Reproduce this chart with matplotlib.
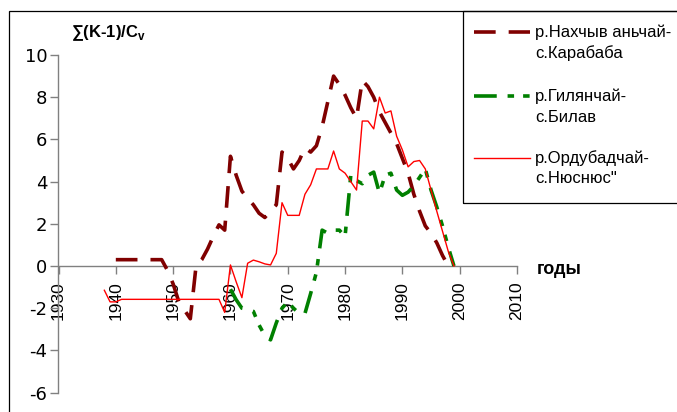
import matplotlib
matplotlib.use("Agg")
import matplotlib.pyplot as plt
from matplotlib.lines import Line2D
from matplotlib.patches import Rectangle

plt.rcParams["font.family"] = ["Liberation Sans", "DejaVu Sans"]
plt.rcParams["axes.unicode_minus"] = False
plt.rcParams["mathtext.fontset"] = "custom"
plt.rcParams["mathtext.bf"] = "Liberation Sans:bold"
plt.rcParams["mathtext.rm"] = "Liberation Sans"

# р.Нахчыванчай - с.Карабаба
years_kar = list(range(1940, 1999))
vals_kar = [0.3, 0.3, 0.3, 0.3, 0.3, 0.3, 0.3, 0.3, 0.3, -0.2,
            -0.85, -1.7, -2.1, -2.5, 0.0, 0.3, 0.8, 1.4, 1.95, 1.7,
            5.2, 4.3, 3.55, 3.2, 2.9, 2.5, 2.3, 2.6, 2.9, 5.4,
            5.1, 4.6, 5.0, 5.6, 5.4, 5.7, 6.6, 7.8, 9.0, 8.6,
            8.1, 7.5, 7.0, 8.8, 8.5, 8.0, 7.3, 6.8, 6.3, 5.8,
            5.1, 4.4, 3.4, 2.6, 1.9, 1.55, 1.1, 0.5, 0.0]

# р.Гилянчай - с.Билав
years_bil = list(range(1960, 2000))
vals_bil = [-1.1, -1.6, -2.0, -2.05, -2.15, -2.8, -3.3, -3.5, -2.7, -2.0,
            -1.7, -2.0, -2.25, -2.25, -1.3, -0.3, 1.7, 1.55, 1.7, 1.7,
            1.4, 4.3, 4.05, 3.9, 4.3, 4.45, 3.45, 4.3, 4.4, 3.6,
            3.35, 3.5, 3.8, 4.2, 4.6, 3.6, 2.8, 1.9, 0.9, 0.0]

# р.Ордубадчай - с.Нюснюс
years_nus = list(range(1938, 2000))
vals_nus = [-1.15, -1.7, -1.7, -1.58, -1.58, -1.58, -1.58, -1.58, -1.58, -1.58,
            -1.58, -1.58, -1.58, -1.58, -1.58, -1.58, -1.58, -1.58, -1.58, -1.58,
            -1.58, -2.2, 0.05, -0.75, -1.5, 0.13, 0.28, 0.2, 0.1, 0.05,
            0.6, 3.0, 2.4, 2.4, 2.4, 3.4, 3.85, 4.6, 4.6, 4.6,
            5.45, 4.6, 4.4, 4.0, 3.6, 6.87, 6.87, 6.5, 8.0, 7.25,
            7.35, 6.15, 5.5, 4.7, 4.95, 5.0, 4.6, 3.6, 2.6, 1.65,
            0.7, 0.0]

labels = ["р.Нахчыв аньчай-\nс.Карабаба", "р.Гилянчай-\nс.Билав", "р.Ордубадчай-\nс.Нюснюс\""]
colors = ["#800000", "#008000", "#ff0000"]

W, H = 677, 412
fig = plt.figure(figsize=(W / 100, H / 100), dpi=100)
ax = fig.add_axes([58.5 / W, 1 - 392.6 / H, (517 - 58.5) / W, (392.6 - 55) / H])

lw_thick = 2.6
dash_kar = (6.0, 3.6)
dash_bil = (6.3, 3.0, 1.8, 2.5, 1.8, 3.0)
l1, = ax.plot(years_kar, vals_kar, color=colors[0], lw=lw_thick, zorder=3,
              dashes=dash_kar, dash_capstyle="butt")
l2, = ax.plot(years_bil, vals_bil, color=colors[1], lw=lw_thick, zorder=4,
              dashes=dash_bil, dash_capstyle="butt")
l3, = ax.plot(years_nus, vals_nus, color=colors[2], lw=1.0, zorder=5)

ax.set_xlim(1930, 2010)
ax.set_ylim(-6, 10)
ax.set_xticks(range(1930, 2011, 10))
ax.set_yticks(range(-6, 11, 2))

for s in ["top", "right"]:
    ax.spines[s].set_visible(False)
ax.spines["bottom"].set_position(("data", 0))
for s in ["left", "bottom"]:
    ax.spines[s].set_color("#808080")
    ax.spines[s].set_linewidth(1.0)

ax.tick_params(axis="y", direction="out", length=6, width=1, color="#808080",
               labelsize=13, pad=2)
ax.tick_params(axis="x", direction="out", length=6, width=1, color="#808080",
               labelsize=12.5, pad=5, labelrotation=90)
for lbl in ax.get_yticklabels():
    lbl.set_family("DejaVu Sans")

# outer chart frame and legend box
fig.add_artist(Rectangle((9 / W, -0.1), 1.2, 1 - 11 / H + 0.1, transform=fig.transFigure,
                         fill=False, ec="black", lw=0.9))
fig.add_artist(Rectangle((463 / W, 1 - 203 / H), 1.0, (203 - 11) / H, transform=fig.transFigure,
                         fill=False, ec="black", lw=0.9))

# legend entries
entry_y = [32, 96, 158]
for line, lab, ey, dsh in zip([l1, l2, l3], labels, entry_y, [dash_kar, dash_bil, None]):
    h = Line2D([474 / W, 530 / W], [1 - ey / H, 1 - ey / H], transform=fig.transFigure,
               color=line.get_color(), lw=line.get_linewidth(), dash_capstyle="butt")
    if dsh is not None:
        h.set_dashes(dsh)
    fig.add_artist(h)
    for k, part in enumerate(lab.split("\n")):
        fig.text(535 / W, 1 - (ey + 21 * k) / H, part, fontsize=12,
                 ha="left", va="center")

fig.text(71 / W, 1 - 37 / H, r"∑(K-1)/C$_\mathbf{v}$", fontsize=12, fontweight="bold",
         ha="left", va="baseline")
fig.text(537 / W, 1 - 269 / H, "годы", fontsize=13, fontweight="bold",
         ha="left", va="center")

fig.savefig("out.png", dpi=100)
